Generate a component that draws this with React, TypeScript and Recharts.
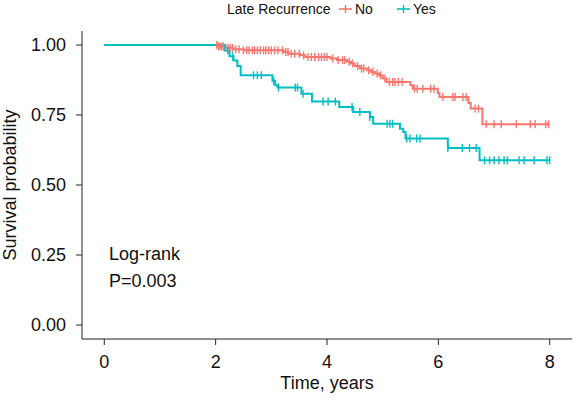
import React from "react";
import { ComposedChart, Line, Scatter, XAxis, YAxis } from "recharts";

const FONT = "'Liberation Sans', Arial, Helvetica, sans-serif";
const RED = "#F8766D";
const TEAL = "#00BFC4";

const xTicks = [0, 2, 4, 6, 8];
const yTicks = [0, 0.25, 0.5, 0.75, 1];

// Late recurrence = No : step times (years) and survival after each step
const noTimes = [0, 2.05, 2.18, 2.32, 2.5, 3.22, 3.31, 3.52, 3.61, 4.06, 4.18, 4.36, 4.43, 4.5, 4.59, 4.72, 4.79, 4.86, 4.93, 5.0, 5.07, 5.5, 5.54, 5.99, 6.02, 6.54, 6.58, 6.79, 8.0];
const noSurv = [1, 0.995, 0.99, 0.985, 0.981, 0.975, 0.969, 0.963, 0.957, 0.952, 0.946, 0.94, 0.934, 0.925, 0.916, 0.91, 0.904, 0.898, 0.892, 0.88, 0.868, 0.856, 0.844, 0.829, 0.814, 0.793, 0.773, 0.717, 0.717];
const noCensored = [2.02, 2.05, 2.08, 2.11, 2.14, 2.18, 2.22, 2.26, 2.3, 2.36, 2.42, 2.5, 2.56, 2.6, 2.66, 2.7, 2.75, 2.8, 2.86, 2.9, 2.95, 3.0, 3.06, 3.12, 3.2, 3.26, 3.3, 3.36, 3.42, 3.5, 3.58, 3.66, 3.72, 3.78, 3.85, 3.9, 3.95, 4.0, 4.1, 4.2, 4.28, 4.32, 4.4, 4.46, 4.55, 4.62, 4.66, 4.75, 4.82, 4.9, 4.96, 5.04, 5.12, 5.18, 5.22, 5.28, 5.35, 5.57, 5.62, 5.72, 5.86, 5.92, 6.08, 6.26, 6.3, 6.44, 6.5, 6.66, 6.72, 6.86, 7.0, 7.13, 7.4, 7.65, 7.74, 7.93, 7.98];

// Late recurrence = Yes
const yesTimes = [0, 2.16, 2.25, 2.32, 2.39, 2.45, 3.02, 3.07, 3.11, 3.54, 3.73, 4.22, 4.47, 4.77, 4.83, 5.31, 5.37, 5.41, 6.17, 6.74, 8.0];
const yesSurv = [1, 0.98, 0.96, 0.945, 0.925, 0.892, 0.872, 0.856, 0.848, 0.826, 0.798, 0.779, 0.761, 0.743, 0.719, 0.701, 0.689, 0.666, 0.632, 0.588, 0.588];
const yesCensored = [2.22, 2.31, 2.68, 2.75, 2.82, 3.04, 3.13, 3.43, 3.47, 3.57, 3.93, 4.02, 4.15, 4.45, 4.59, 4.77, 5.08, 5.13, 5.18, 5.43, 5.49, 5.61, 5.67, 6.17, 6.43, 6.56, 6.68, 6.83, 6.92, 7.0, 7.09, 7.18, 7.24, 7.45, 7.54, 7.72, 7.95, 8.0];

const steps = (times: number[], surv: number[]) => times.map((t, i) => ({ t, s: surv[i] }));

// value of the step curve at a censoring time
const marks = (cens: number[], times: number[], surv: number[]) =>
  cens.map((t) => {
    let s = surv[0];
    times.forEach((tt, i) => {
      if (tt <= t) s = surv[i];
    });
    return { t, s };
  });

const noLine = steps(noTimes, noSurv);
const yesLine = steps(yesTimes, yesSurv);
const noMarks = marks(noCensored, noTimes, noSurv);
const yesMarks = marks(yesCensored, yesTimes, yesSurv);

const tick = (color: string) => (props: any) => {
  const { cx, cy } = props;
  return <line x1={cx} x2={cx} y1={cy - 4} y2={cy + 4} stroke={color} strokeWidth={1.4} />;
};

const axisText = { fontFamily: FONT, fontSize: 18, fill: "#111" };

export default function App() {
  return (
    <div style={{ position: "absolute", left: 0, top: 0, width: 576, height: 404, background: "#fff" }}>
      <ComposedChart width={576} height={404} margin={{ top: 31, right: 4, bottom: 14, left: 10 }}>
        <XAxis
          dataKey="t"
          type="number"
          domain={[-0.4, 8.4]}
          ticks={xTicks}
          allowDataOverflow
          height={51}
          tickSize={6}
          tickMargin={10}
          stroke="#222"
          tick={axisText}
        />
        <YAxis
          type="number"
          domain={[-0.05, 1.05]}
          ticks={yTicks}
          allowDataOverflow
          width={72}
          tickSize={6}
          tickMargin={10}
          stroke="#222"
          tick={axisText}
          tickFormatter={(v: number) => v.toFixed(2)}
        />
        <Line data={noLine} dataKey="s" type="stepAfter" stroke={RED} strokeWidth={2} dot={false} isAnimationActive={false} />
        <Line data={yesLine} dataKey="s" type="stepAfter" stroke={TEAL} strokeWidth={2} dot={false} isAnimationActive={false} />
        <Scatter data={noMarks} dataKey="s" shape={tick(RED)} isAnimationActive={false} />
        <Scatter data={yesMarks} dataKey="s" shape={tick(TEAL)} isAnimationActive={false} />
      </ComposedChart>
      <svg width={576} height={404} style={{ position: "absolute", left: 0, top: 0, pointerEvents: "none" }}>
        <g fontFamily={FONT} fill="#111">
          <text x={227} y={14} fontSize={14}>Late Recurrence</text>
          <line x1={339} x2={352} y1={9} y2={9} stroke={RED} strokeWidth={1.6} />
          <line x1={345.5} x2={345.5} y1={5} y2={13} stroke={RED} strokeWidth={1.4} />
          <text x={355} y={14} fontSize={14}>No</text>
          <line x1={397} x2={410} y1={9} y2={9} stroke={TEAL} strokeWidth={1.6} />
          <line x1={403.5} x2={403.5} y1={5} y2={13} stroke={TEAL} strokeWidth={1.4} />
          <text x={413} y={14} fontSize={14}>Yes</text>
          <text x={109} y={260} fontSize={18}>Log-rank</text>
          <text x={109} y={287} fontSize={18}>P=0.003</text>
          <text x={327} y={389} fontSize={18} textAnchor="middle">Time, years</text>
          <text x={16} y={185} fontSize={18} textAnchor="middle" transform="rotate(-90 16 185)">Survival probability</text>
        </g>
      </svg>
    </div>
  );
}
